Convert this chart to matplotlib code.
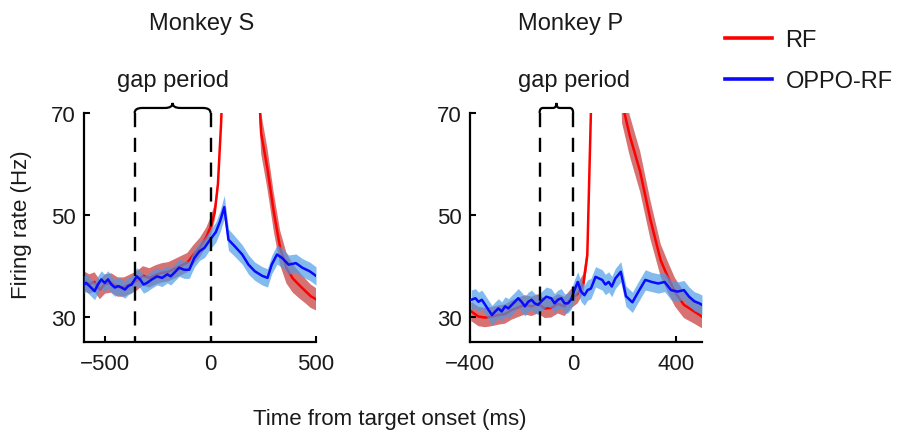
import numpy as np
import matplotlib
matplotlib.use("Agg")
import matplotlib.pyplot as plt
from matplotlib.path import Path
from matplotlib.patches import PathPatch
from matplotlib.lines import Line2D
from matplotlib.transforms import blended_transform_factory

plt.rcParams['font.family'] = ['Liberation Sans', 'DejaVu Sans']

# ---- Monkey S ----
s_blue_t = [-600, -590, -574, -550, -534, -518, -502, -486, -470, -454, -438, -422, -406, -390,
            -374, -350, -334, -318, -302, -278, -254, -230, -205, -189, -165, -149, -125, -101,
            -77, -53, -29, 3, 25, 45, 65, 85, 115, 150, 180, 210, 245, 270, 290, 315, 340,
            370, 405, 435, 470, 500]
s_blue = [36.3, 36.6, 36.0, 35.0, 36.3, 37.3, 36.6, 37.3, 36.3, 35.7, 36.0, 35.7, 35.3, 36.0,
          36.3, 37.9, 37.3, 36.3, 36.6, 37.3, 37.9, 37.6, 38.3, 37.9, 38.9, 39.6, 39.2, 39.2,
          41.5, 42.8, 43.5, 45.4, 46.6, 48.7, 51.5, 45.1, 43.8, 42.2, 40.2, 38.9, 38.0, 37.6, 40.2, 42.2, 41.5,
          40.2, 40.5, 39.6, 38.9, 38.0]
s_blue_sem = [1.7, 1.7, 1.7, 1.7, 1.7, 1.7, 1.7, 1.7, 1.7, 1.7, 1.7, 1.7, 1.7, 1.7,
              1.7, 1.7, 1.7, 1.7, 1.7, 1.7, 1.7, 1.7, 1.7, 1.7, 1.7, 1.7, 1.7, 1.7,
              1.8, 1.8, 1.9, 1.9, 2.0, 2.1, 2.3, 2.1, 2.0, 1.9, 1.9, 1.8, 1.8, 1.8, 1.8, 1.9, 1.9,
              1.9, 1.8, 1.8, 1.8, 1.8]

s_red_t = [-600, -575, -550, -525, -500, -470, -440, -410, -380, -350, -320, -290, -260, -230,
           -200, -170, -140, -110, -80, -50, -20, 0, 20, 35, 50, 65, 90, 130, 170, 210,
           240, 270, 300, 330, 360, 390, 420, 450, 475, 500]
s_red = [37.0, 36.4, 36.8, 35.3, 36.4, 36.6, 35.8, 35.8, 36.4, 37.0, 38.0, 37.6, 38.2, 38.6,
         38.8, 39.4, 40.0, 40.6, 42.2, 43.6, 45.6, 47.6, 50.5, 56.0, 68.0, 85.0, 115.0, 130.0, 120.0, 90.0,
         66.0, 59.0, 50.5, 43.5, 39.5, 37.5, 36.2, 35.0, 34.0, 33.4]
s_red_sem = [1.9, 1.9, 1.9, 1.9, 1.9, 1.9, 1.9, 1.9, 1.9, 1.9, 1.9, 1.9, 1.9, 1.9,
             1.9, 1.9, 1.9, 1.9, 1.9, 1.9, 1.9, 1.9, 1.6, 1.5, 1.5, 2.0, 3.0, 4.0, 4.0, 4.0,
             4.0, 4.0, 3.8, 3.4, 3.0, 2.8, 2.6, 2.4, 2.3, 2.2]

# ---- Monkey P ----
p_blue_t = [-395, -379, -367, -354, -341, -328, -315, -302, -290, -277, -264, -251, -238, -226,
            -213, -200, -187, -174, -161, -149, -136, -117, -104, -85, -72, -59, -46, -33,
            -20, -8, 5, 18, 31, 44, 56, 69, 87, 113, 125, 138, 150, 164, 185, 205, 230,
            250, 280, 305, 330, 355, 380, 405, 430, 450, 470, 490, 500]
p_blue = [33.3, 33.6, 32.9, 33.3, 32.3, 31.3, 30.3, 31.0, 31.6, 31.0, 32.0, 31.6, 32.3, 32.9,
          33.6, 32.9, 32.0, 32.9, 33.3, 32.6, 32.3, 33.3, 33.9, 33.6, 32.6, 33.3, 33.6, 32.6,
          32.6, 33.3, 35.2, 36.8, 34.9, 34.2, 35.2, 35.5, 37.8, 37.2, 36.3, 36.8, 35.9, 37.5, 38.8, 34.0, 32.8,
          34.6, 37.2, 36.8, 36.5, 36.8, 35.2, 34.9, 35.2, 33.9, 33.0, 32.6, 32.3]
p_blue_sem = [1.9, 1.9, 1.9, 1.9, 1.9, 1.9, 1.9, 1.9, 1.9, 1.9, 1.9, 1.9, 1.9, 1.9,
              1.9, 1.9, 1.9, 1.9, 1.9, 1.9, 1.9, 1.9, 1.9, 1.9, 1.9, 1.9, 1.9, 1.9,
              1.9, 1.9, 2.0, 2.0, 2.0, 2.0, 2.0, 2.0, 2.0, 2.0, 2.0, 2.0, 2.0, 2.0, 2.0, 2.0, 2.0,
              2.0, 2.0, 1.9, 1.9, 1.9, 1.9, 1.9, 1.9, 1.9, 1.9, 1.9, 1.9]

p_red_t = [-395, -367, -341, -315, -290, -264, -238, -213, -187, -161, -136, -110, -85, -59,
           -33, -8, 18, 40, 55, 62, 70, 90, 130, 170, 190, 220, 260, 300, 320, 340,
           370, 395, 430, 470, 500]
p_red = [31.0, 30.0, 29.8, 30.0, 30.3, 30.5, 31.3, 31.8, 32.3, 32.0, 32.5, 31.6, 31.7, 32.5,
         32.0, 33.5, 34.5, 36.5, 42.0, 56.0, 72.0, 100.0, 115.0, 100.0, 72.0, 65.5, 58.5, 49.0, 45.0, 41.0,
         37.5, 34.8, 32.3, 31.0, 30.0]
p_red_sem = [1.9, 1.9, 1.9, 1.9, 1.9, 1.9, 1.9, 1.9, 1.9, 1.9, 1.9, 1.9, 1.9, 1.9,
             1.9, 1.9, 1.9, 1.9, 1.9, 2.0, 2.5, 3.0, 4.0, 4.0, 4.0, 4.0, 4.0, 3.8, 3.5, 3.2,
             3.0, 2.8, 2.6, 2.4, 2.3]

panels = [
    dict(title='Monkey S', xlim=(-600, 500), xticks=[-500, 0, 500], gap=(-360, 0),
         blue=(s_blue_t, s_blue, s_blue_sem), red=(s_red_t, s_red, s_red_sem),
         left=84, title_x=202, gap_x=173),
    dict(title='Monkey P', xlim=(-400, 500), xticks=[-400, 0, 400], gap=(-130, 0),
         blue=(p_blue_t, p_blue, p_blue_sem), red=(p_red_t, p_red, p_red_sem),
         left=470, title_x=571, gap_x=574),
]

W, H = 900, 439
TXT = '#1a1a1a'
RED_BAND = '#c83c3c'
BLUE_BAND = '#4a9be8'


def draw_brace(ax, x0, x1, y0=1.0, h=0.044):
    tr = blended_transform_factory(ax.transData, ax.transAxes)
    xm = (x0 + x1) / 2
    w = x1 - x0
    yb = y0 + h / 2
    verts = [(x0, y0), (x0, yb), (x0 + 0.1 * w, yb),
             (xm - 0.1 * w, yb),
             (xm, yb), (xm, y0 + h),
             (xm, yb), (xm + 0.1 * w, yb),
             (x1 - 0.1 * w, yb),
             (x1, yb), (x1, y0)]
    codes = [Path.MOVETO, Path.CURVE3, Path.CURVE3, Path.LINETO,
             Path.CURVE3, Path.CURVE3, Path.CURVE3, Path.CURVE3,
             Path.LINETO, Path.CURVE3, Path.CURVE3]
    ax.add_patch(PathPatch(Path(verts, codes), transform=tr, fill=False,
                           lw=1.6, color='black', clip_on=False))


fig = plt.figure(figsize=(9, 4.39), dpi=100)

for p in panels:
    ax = fig.add_axes([p['left'] / W, 1 - 343 / H, 232 / W, 229 / H])
    # red band + line underneath, blue band + line on top
    z = 1
    for (t, m, e), lc, bc, a in [(p['red'], 'red', RED_BAND, 0.72),
                                 (p['blue'], '#0a0aff', BLUE_BAND, 0.68)]:
        t = np.array(t)
        m = np.array(m)
        e = np.array(e)
        ax.fill_between(t, m - e, m + e, color=bc, alpha=a, lw=0, zorder=z)
        ax.plot(t, m, color=lc, lw=1.8, zorder=z + 1)
        z += 2

    tr = blended_transform_factory(ax.transData, ax.transAxes)
    for gx in p['gap']:
        ax.plot([gx, gx], [1.0, 0.0], transform=tr, color='black', lw=1.7,
                ls=(0, (6, 4.5)), clip_on=False, zorder=6)
    draw_brace(ax, p['gap'][0], p['gap'][1])

    ax.set_xlim(*p['xlim'])
    ax.set_ylim(25, 70)
    ax.set_xticks(p['xticks'])
    ax.set_yticks([30, 50, 70])
    ax.set_xticklabels([f'{v:d}'.replace('-', '\u2212') for v in p['xticks']])
    for s in ['top', 'right']:
        ax.spines[s].set_visible(False)
    for s in ['left', 'bottom']:
        ax.spines[s].set_linewidth(1.6)
    ax.tick_params(direction='in', length=4, width=1.5, labelsize=16, colors='black',
                   labelcolor=TXT)
    ax.tick_params(axis='x', pad=8)
    ax.tick_params(axis='y', pad=6)

    fig.text(p['title_x'] / W, 1 - 24 / H, p['title'], ha='center', va='center',
             fontsize=17, color=TXT)
    fig.text(p['gap_x'] / W, 1 - 81 / H, 'gap period', ha='center', va='center',
             fontsize=17, color=TXT)

fig.text(22 / W, 1 - 225 / H, 'Firing rate (Hz)', rotation=90, ha='center', va='center',
         fontsize=16, color=TXT)
fig.text(390 / W, 1 - 420 / H, 'Time from target onset (ms)', ha='center', va='center',
         fontsize=16, color=TXT)

handles = [Line2D([], [], color='red', lw=2.6), Line2D([], [], color='#0a0aff', lw=2.6)]
fig.legend(handles, ['RF', 'OPPO-RF'], loc='upper left', bbox_to_anchor=(704 / W, 1 - 9 / H),
           frameon=False, fontsize=17, handlelength=2.0, handletextpad=0.55,
           labelspacing=0.8, labelcolor=TXT)

fig.savefig('out.png', dpi=100)
